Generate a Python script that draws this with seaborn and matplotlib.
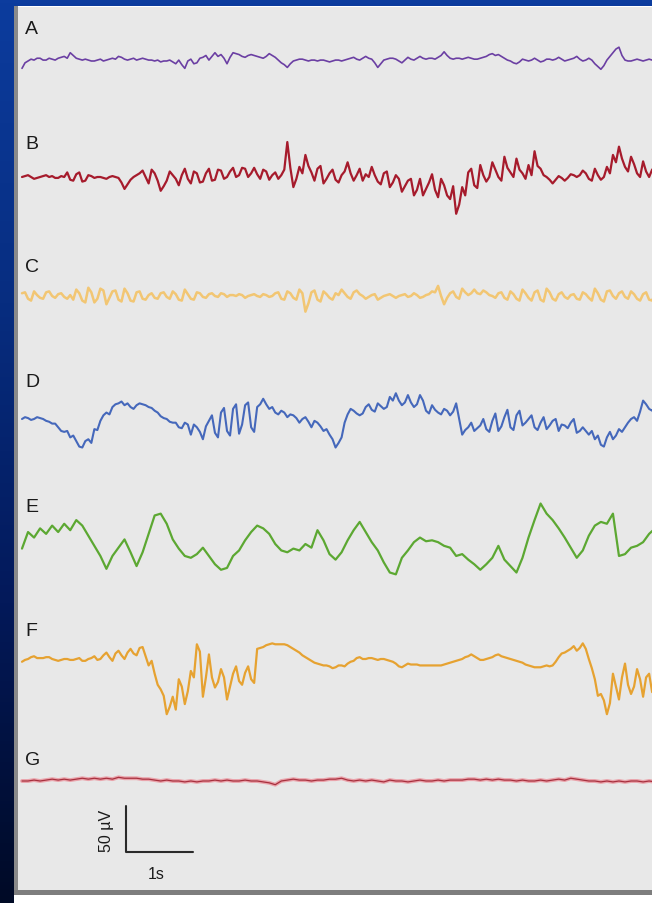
import numpy as np
import pandas as pd
import matplotlib
matplotlib.use("Agg")
import matplotlib.pyplot as plt
from matplotlib.colors import LinearSegmentedColormap
from matplotlib.patches import Rectangle
import seaborn as sns

# ---------------- data (µV) ----------------
channels = ["A", "B", "C", "D", "E", "F", "G"]
sample_dt = [0.045, 0.045, 0.045, 0.045, 0.09, 0.045, 0.09]   # s between samples

trace_A = [-8, -2, 0, 2, 1, 3, 3, 1, 1, 3, 2, 1, 3, 4, 5, 3, 9, 6, 3, 2,
           1, 2, 1, 0, 0, 1, 2, 0, 1, 2, 3, 2, 5, 4, 2, 1, 2, 3, 1, 2,
           3, 2, 1, 1, 0, 1, -1, 0, 0, 1, -1, -3, 1, -4, -8, 0, 2, -3, -2, 3,
           4, 6, 1, 5, 9, 5, 7, 3, -3, 4, 9, 8, 7, 5, 4, 6, 7, 6, 5, 4,
           3, 5, 8, 6, 4, 1, -2, -4, -7, -3, 0, 1, 2, 2, 1, 0, 1, 1, 0, 1,
           1, 0, -1, 0, 1, 1, 0, 1, 2, 3, 4, 2, 1, 3, 5, 3, 2, -2, -7, -3,
           1, 2, 3, 3, 2, 0, -2, 1, 4, 2, 1, 3, 5, 3, 2, 3, 3, 2, 4, 6,
           10, 6, 3, 2, 3, 3, 2, 3, 4, 3, 2, 2, 3, 4, 5, 7, 8, 6, 7, 5,
           3, 1, 0, -2, -3, -1, 2, 1, 0, 1, 3, 1, -1, 0, 2, 2, 1, 2, 4, 2,
           0, 1, 2, 3, 5, 2, 0, 1, 3, 1, -3, -6, -9, -5, 1, 5, 9, 13, 15, 6,
           1, 0, 0, 1, 2, 1, 0, 1, 2, 1, 0]
trace_B = [0, 1, 2, 0, -2, -1, 0, 1, 2, 0, 1, -1, -1, 1, 0, 5, -3, -4, 3, 5,
           -5, -4, 2, 1, -1, 0, 0, -1, -2, 0, 1, 0, -1, -6, -13, -8, -3, 0, 2, 4,
           7, 0, -7, 8, 4, -4, -15, -10, -4, 6, 2, -2, -9, 2, 9, -2, -7, 6, 4, -6,
           -5, 4, 9, -4, -3, 8, 7, -2, 0, 6, 10, 0, 2, 10, 9, 0, 4, 10, 3, -2,
           8, 6, -3, 2, 5, -2, 2, 8, 38, 10, -11, -2, 11, 4, 24, 12, 5, -4, 9, 12,
           -7, -2, 4, 8, -3, -6, 2, 6, 16, 4, -4, 2, 9, -4, 3, 0, 11, 2, -5, -8,
           4, 6, -11, -6, 2, -2, -16, -10, -4, -2, -20, -14, -2, -20, -13, -6, 3, -14, -22, -2,
           -9, -20, -24, -10, -40, -30, -11, -20, 5, 9, -9, -12, 13, 2, -5, 0, 16, 8, 0, -4,
           22, 10, 5, 0, 20, 8, 4, -2, 13, 2, 28, 12, 9, 2, 0, -3, -7, -3, 1, -1,
           -4, -1, 3, 2, 0, 2, 7, 4, -2, -4, 9, 2, -3, 0, 11, 4, 24, 16, 33, 20,
           11, 6, 22, 14, 4, 0, 17, 6, 0, 8, 11]
trace_C = [3, 4, -3, -5, 5, 1, -2, -3, 4, 5, 0, -2, 2, 3, -1, -3, 1, -4, 7, 3,
           -5, -7, 9, 4, -7, -3, 8, 6, -9, -2, 5, 6, -4, -6, 8, 3, -5, -6, 4, 5,
           -3, -4, 1, 3, -2, -3, 3, 4, -1, -3, 5, 2, -4, -5, 7, 2, -3, -4, 4, 3,
           -1, -2, 2, 3, 0, -1, 3, 2, -1, 1, 1, 0, 2, 1, -2, 0, 1, 2, 0, -1,
           2, 1, -1, 0, 3, 4, -3, -4, 5, 3, -2, -4, 7, 3, -17, -8, 4, 6, -4, -6,
           5, 2, -2, -4, 3, 1, 7, 3, -1, -3, 4, 6, 2, 0, -3, -1, 1, 2, -4, -2,
           0, 1, 2, 0, -2, 0, 1, 2, -1, 0, 3, 1, -2, -1, 1, 2, 5, 4, 11, 0,
           -9, -2, 3, 5, -1, -3, 8, 4, 1, 3, 7, 3, 2, 6, 4, 1, 0, -2, 3, 4,
           -2, -4, 5, 2, -3, -5, 7, 3, -2, -5, 4, 6, -4, -6, 8, 4, -3, -5, 2, 4,
           -1, -3, 1, 2, -3, -4, 4, 2, -2, -5, 8, 3, -4, -6, 5, 6, 0, -3, 3, 5,
           -1, -3, 5, 2, -3, -5, 2, 4, -4, -5, 3]
trace_D = [0, 2, 1, -1, 0, 2, 1, 0, -2, -3, -5, -5, -9, -13, -14, -13, -20, -18, -24, -30,
           -31, -24, -22, -26, -11, -12, -2, 4, 7, 5, 13, 16, 17, 19, 15, 17, 13, 11, 15, 17,
           16, 15, 13, 12, 9, 7, 3, 1, 0, -3, -4, -4, -9, -10, -4, -6, -17, -6, -9, -14,
           -22, -8, -2, 4, -15, -20, 7, 12, -13, -18, 11, 16, -16, -6, 15, 18, -9, -14, 13, 16,
           22, 16, 11, 13, 7, 5, 9, 7, 2, 5, 4, 1, -4, 0, 2, -3, -9, -2, -4, -8,
           -13, -11, -17, -22, -31, -26, -20, -4, 5, 11, 9, 6, 4, 6, 13, 16, 10, 8, 17, 14,
           11, 13, 24, 20, 28, 20, 15, 18, 26, 18, 13, 16, 26, 20, 9, 6, 15, 10, 7, 5,
           11, 9, 4, 8, 17, 0, -17, -12, -9, -4, -13, -10, -7, 0, -11, -14, -2, 6, -13, -8,
           2, 10, -9, -12, 4, 9, -7, -4, 0, 4, -9, -12, -4, 2, -11, -7, -2, 0, -13, -6,
           -7, -10, -4, 0, -15, -13, -9, -13, -17, -13, -22, -18, -28, -30, -20, -14, -22, -18, -11, -14,
           -9, -4, 0, 2, -2, 8, 20, 16, 11, 9, 13]
trace_E = [-5, 13, 7, 17, 11, 20, 13, 22, 15, 26, 20, 9, -2, -13, -27, -13, -4, 5, -9, -24,
           -9, 11, 31, 33, 22, 5, -5, -13, -15, -11, -4, -13, -22, -28, -26, -13, -7, 4, 13, 20,
           17, 11, 0, -7, -9, -5, -7, 0, -4, 15, 4, -11, -17, -9, 4, 15, 24, 13, 2, -7,
           -20, -31, -33, -15, -7, 2, 7, 3, 4, 2, -2, -4, -13, -11, -17, -22, -28, -22, -15, -2,
           -17, -24, -31, -15, 7, 26, 44, 33, 26, 17, 7, -4, -15, -7, 9, 20, 24, 22, 33, -13,
           -11, -4, -2, 2, 11, 17]
trace_F = [-3, -1, 0, 2, 3, 1, 1, 1, 2, 2, 0, -1, -2, -1, 0, 0, -1, -1, 0, 1,
           -2, -2, 0, 1, 3, -1, 0, 4, 7, 2, -2, 6, 9, 4, 0, 7, 11, 6, 4, 12,
           13, 3, -7, -2, -16, -28, -33, -40, -60, -52, -41, -55, -22, -30, -49, -35, -13, -20, 16, 8,
           -41, -20, 5, -20, -31, -25, -11, -20, -44, -30, -16, -8, -24, -28, -15, -8, -22, -26, 11, 12,
           13, 15, 16, 17, 16, 16, 16, 16, 15, 13, 11, 9, 7, 4, 2, 0, -2, -4, -5, -6,
           -7, -7, -8, -10, -9, -7, -7, -8, -5, -3, -2, 1, 2, 0, 0, 1, 1, 0, -1, 0,
           0, -1, -2, -3, -5, -8, -9, -7, -5, -6, -6, -6, -7, -7, -7, -7, -7, -7, -7, -7,
           -6, -5, -4, -3, -2, -1, 0, 2, 3, 5, 3, 1, -1, -1, 0, 1, 2, 4, 5, 3,
           2, 1, 0, -1, -2, -3, -4, -6, -7, -8, -9, -9, -9, -8, -7, -8, -7, -3, 2, 6,
           7, 9, 11, 14, 9, 12, 17, 11, 0, -10, -22, -40, -38, -45, -60, -48, -16, -30, -44, -20,
           -5, -28, -38, -30, -11, -22, -41, -20, -16, -36, -33]
trace_G = [0, 0, 1, 0, 1, 2, 1, 2, 1, 2, 3, 2, 3, 2, 3, 2, 4, 3, 3, 3,
           2, 2, 1, 0, 1, 0, 0, -1, 0, -1, 0, 0, 1, 0, 1, 0, 0, 1, 0, 0,
           -1, -2, -4, 0, 1, 2, 1, 1, 0, 1, 1, 2, 2, 3, 1, 0, 1, 0, 1, 0,
           -1, 1, 0, 0, -1, 0, 1, 0, 0, 1, 0, 1, 1, 1, 2, 2, 1, 2, 1, 2,
           1, 1, 0, 1, 0, 0, 1, 0, 1, 2, 1, 3, 2, 1, 0, 0, -1, 0, -1, 0,
           -1, 0, 0, -1, 0, -1]
traces = [trace_A, trace_B, trace_C, trace_D, trace_E, trace_F, trace_G]

scale_uv = 50      # vertical calibration bar
scale_s = 1        # horizontal calibration bar
scale_labels = ["50 µV", "1s"]

# ---------------- styling / layout ----------------
colors = ["#6b3fa3", "#a61b2c", "#f2c673", "#4568bb", "#5ca832", "#e6a231", "#a8303e"]
widths = [1.2, 1.6, 1.8, 1.5, 1.6, 1.6, 0.9]
baseline_px = [62, 178, 297, 420, 545, 660, 782]
label_px = [(25, 30), (25, 145), (25, 268), (25, 383), (25, 508), (25, 632), (25, 761)]

W, H = 652, 904
PX_PER_S = 67.0
PX_PER_UV = 46.0 / 50.0
X0_PX, Y0_PX = 22.0, 891.0


def px2data(px, py):
    return (px - X0_PX) / PX_PER_S, (Y0_PX - py) / PX_PER_UV


sns.set_theme(style="white")
plt.rcParams["font.family"] = ["Liberation Sans", "DejaVu Sans"]

fig = plt.figure(figsize=(W / 100, H / 100), dpi=100)

# background: blue gradient frame + white under-panel + shadows
bg = fig.add_axes([0, 0, 1, 1])
bg.set_xlim(0, W)
bg.set_ylim(H, 0)
bg.axis("off")
cmap = LinearSegmentedColormap.from_list("frame", ["#0c3c9e", "#072d80", "#03195a", "#000a26"])
bg.imshow(np.linspace(0, 1, 256)[:, None], aspect="auto", cmap=cmap,
          extent=[0, W, H, 0], origin="upper")
bg.add_patch(Rectangle((14, 7), W - 14, H - 7, color="white", lw=0))
bg.add_patch(Rectangle((14, 7), 4, 886, color="#8a8a8a", lw=0))
bg.add_patch(Rectangle((14, 891), W - 14, 5, color="#7e7e7e", lw=0))

# main panel
left, top, right, bottom = 18, 8, 652, Y0_PX
ax = fig.add_axes([left / W, (H - bottom) / H, (right - left) / W, (bottom - top) / H])
ax.set_facecolor("#e8e8e8")

rows = []
for ch, vals, bpx, step in zip(channels, traces, baseline_px, sample_dt):
    off = (Y0_PX - bpx) / PX_PER_UV
    for i, v in enumerate(vals):
        rows.append({"ch": ch, "t": i * step, "y": v + off})
df = pd.DataFrame(rows)

for ch, col, lw in zip(channels, colors, widths):
    sub = df[df.ch == ch]
    if ch == "G":
        sns.lineplot(data=sub, x="t", y="y", ax=ax, color="#eaa3ab", lw=2.8,
                     estimator=None, sort=False)
    sns.lineplot(data=sub, x="t", y="y", ax=ax, color=col, lw=lw,
                 estimator=None, sort=False)

for ch, (lx, ly) in zip(channels, label_px):
    tx, ty = px2data(lx, ly)
    ax.text(tx, ty, ch, fontsize=14, color="#1a1a1a", ha="left", va="center")

# calibration bars
t0, y0 = px2data(126, 853)
sns.lineplot(x=[t0, t0, t0 + scale_s], y=[y0 + scale_uv, y0, y0], ax=ax,
             color="#2a2a2a", lw=1.5, estimator=None, sort=False)
tx, ty = px2data(106, 831)
ax.text(tx, ty, scale_labels[0], rotation=90, fontsize=11.5, color="#1a1a1a",
        ha="center", va="center")
tx, ty = px2data(156, 875)
ax.text(tx, ty, scale_labels[1], fontsize=11.5, color="#1a1a1a", ha="center", va="center")

ax.set_xlim(px2data(left, 0)[0], px2data(right, 0)[0])
ax.set_ylim(0, (bottom - top) / PX_PER_UV)
ax.set_xticks([])
ax.set_yticks([])
ax.set_xlabel("")
ax.set_ylabel("")
for s in ax.spines.values():
    s.set_visible(False)

fig.savefig("out.png", dpi=100)
